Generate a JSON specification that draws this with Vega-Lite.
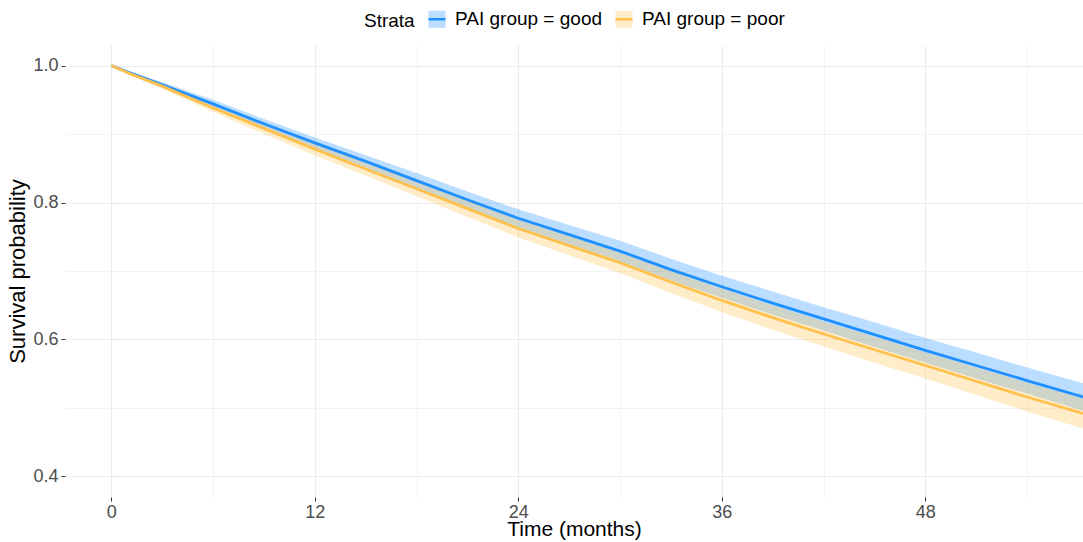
{
  "$schema": "https://vega.github.io/schema/vega-lite/v6.json",
  "width": 1018,
  "height": 452,
  "autosize": {"type": "none"},
  "padding": {"left": 65, "top": 45, "right": 0, "bottom": 45},
  "background": "white",
  "config": {
    "view": {"stroke": null},
    "font": "Liberation Sans"
  },
  "data": {
    "values": [
      {"time": 0, "strata": "PAI group = good", "surv": 1.000, "lower": 1.000, "upper": 1.000},
      {"time": 1, "strata": "PAI group = good", "surv": 0.990, "lower": 0.988, "upper": 0.992},
      {"time": 3, "strata": "PAI group = good", "surv": 0.972, "lower": 0.968, "upper": 0.976},
      {"time": 6, "strata": "PAI group = good", "surv": 0.944, "lower": 0.938, "upper": 0.950},
      {"time": 9, "strata": "PAI group = good", "surv": 0.915, "lower": 0.908, "upper": 0.922},
      {"time": 12, "strata": "PAI group = good", "surv": 0.887, "lower": 0.879, "upper": 0.895},
      {"time": 15, "strata": "PAI group = good", "surv": 0.860, "lower": 0.851, "upper": 0.869},
      {"time": 18, "strata": "PAI group = good", "surv": 0.832, "lower": 0.821, "upper": 0.843},
      {"time": 21, "strata": "PAI group = good", "surv": 0.804, "lower": 0.792, "upper": 0.816},
      {"time": 24, "strata": "PAI group = good", "surv": 0.777, "lower": 0.764, "upper": 0.790},
      {"time": 27, "strata": "PAI group = good", "surv": 0.753, "lower": 0.739, "upper": 0.767},
      {"time": 30, "strata": "PAI group = good", "surv": 0.729, "lower": 0.714, "upper": 0.744},
      {"time": 33, "strata": "PAI group = good", "surv": 0.702, "lower": 0.686, "upper": 0.718},
      {"time": 36, "strata": "PAI group = good", "surv": 0.677, "lower": 0.661, "upper": 0.693},
      {"time": 39, "strata": "PAI group = good", "surv": 0.653, "lower": 0.636, "upper": 0.670},
      {"time": 42, "strata": "PAI group = good", "surv": 0.630, "lower": 0.613, "upper": 0.647},
      {"time": 45, "strata": "PAI group = good", "surv": 0.607, "lower": 0.589, "upper": 0.625},
      {"time": 48, "strata": "PAI group = good", "surv": 0.584, "lower": 0.566, "upper": 0.602},
      {"time": 51, "strata": "PAI group = good", "surv": 0.562, "lower": 0.543, "upper": 0.581},
      {"time": 54, "strata": "PAI group = good", "surv": 0.540, "lower": 0.521, "upper": 0.559},
      {"time": 57.3, "strata": "PAI group = good", "surv": 0.516, "lower": 0.496, "upper": 0.536},
      {"time": 0, "strata": "PAI group = poor", "surv": 1.000, "lower": 1.000, "upper": 1.000},
      {"time": 1, "strata": "PAI group = poor", "surv": 0.989, "lower": 0.987, "upper": 0.991},
      {"time": 3, "strata": "PAI group = poor", "surv": 0.970, "lower": 0.966, "upper": 0.974},
      {"time": 6, "strata": "PAI group = poor", "surv": 0.938, "lower": 0.932, "upper": 0.944},
      {"time": 9, "strata": "PAI group = poor", "surv": 0.908, "lower": 0.900, "upper": 0.916},
      {"time": 12, "strata": "PAI group = poor", "surv": 0.878, "lower": 0.869, "upper": 0.887},
      {"time": 15, "strata": "PAI group = poor", "surv": 0.849, "lower": 0.839, "upper": 0.859},
      {"time": 18, "strata": "PAI group = poor", "surv": 0.820, "lower": 0.809, "upper": 0.831},
      {"time": 21, "strata": "PAI group = poor", "surv": 0.791, "lower": 0.779, "upper": 0.803},
      {"time": 24, "strata": "PAI group = poor", "surv": 0.762, "lower": 0.749, "upper": 0.775},
      {"time": 27, "strata": "PAI group = poor", "surv": 0.737, "lower": 0.723, "upper": 0.751},
      {"time": 30, "strata": "PAI group = poor", "surv": 0.712, "lower": 0.697, "upper": 0.727},
      {"time": 33, "strata": "PAI group = poor", "surv": 0.684, "lower": 0.668, "upper": 0.700},
      {"time": 36, "strata": "PAI group = poor", "surv": 0.657, "lower": 0.640, "upper": 0.674},
      {"time": 39, "strata": "PAI group = poor", "surv": 0.632, "lower": 0.614, "upper": 0.650},
      {"time": 42, "strata": "PAI group = poor", "surv": 0.608, "lower": 0.590, "upper": 0.626},
      {"time": 45, "strata": "PAI group = poor", "surv": 0.585, "lower": 0.566, "upper": 0.604},
      {"time": 48, "strata": "PAI group = poor", "surv": 0.562, "lower": 0.543, "upper": 0.581},
      {"time": 51, "strata": "PAI group = poor", "surv": 0.539, "lower": 0.519, "upper": 0.559},
      {"time": 54, "strata": "PAI group = poor", "surv": 0.516, "lower": 0.495, "upper": 0.537},
      {"time": 57.3, "strata": "PAI group = poor", "surv": 0.492, "lower": 0.470, "upper": 0.514}
    ]
  },
  "encoding": {
    "x": {
      "field": "time",
      "type": "quantitative",
      "scale": {"domain": [-2.73, 57.3], "nice": false, "zero": false},
      "axis": {
        "title": "Time (months)",
        "values": [0, 6, 12, 18, 24, 30, 36, 42, 48, 54],
        "labelExpr": "datum.value % 12 === 0 ? datum.label : ''",
        "domain": false,
        "grid": true,
        "gridColor": "#EBEBEB",
        "gridWidth": {"condition": {"test": "datum.value % 12 !== 0", "value": 0.6}, "value": 1.1},
        "ticks": true,
        "tickSize": 4,
        "tickWidth": 1,
        "tickColor": {"condition": {"test": "datum.value % 12 !== 0", "value": "transparent"}, "value": "#333333"},
        "labelFontSize": 18,
        "labelColor": "#4D4D4D",
        "labelPadding": 2,
        "labelFlush": false,
        "titleFontSize": 21,
        "titleFontWeight": "normal",
        "titleColor": "#000000",
        "titleBaseline": "alphabetic",
        "titleY": 38
      }
    },
    "color": {
      "field": "strata",
      "type": "nominal",
      "scale": {"domain": ["PAI group = good", "PAI group = poor"], "range": ["#1E90FF", "#FFC04C"]},
      "legend": {
        "title": "Strata",
        "orient": "none",
        "legendX": 299,
        "legendY": -36,
        "direction": "horizontal",
        "titleOrient": "left",
        "titleFontSize": 19,
        "titleFontWeight": "normal",
        "titleColor": "#000000",
        "titlePadding": 12,
        "labelFontSize": 19,
        "labelColor": "#000000",
        "labelOffset": 8,
        "columnPadding": 7,
        "symbolType": "M-1,0H1V1H-1V-1H1V0Z",
        "symbolSize": 289,
        "symbolStrokeWidth": 2.5,
        "symbolDash": [17, 1000],
        "encode": {
          "symbols": {
            "update": {
              "fill": {"scale": "color", "field": "value"},
              "stroke": {"scale": "color", "field": "value"},
              "fillOpacity": {"value": 0.3},
              "strokeOpacity": {"value": 1},
              "opacity": {"value": 1}
            }
          }
        }
      }
    }
  },
  "layer": [
    {
      "mark": {"type": "area", "fillOpacity": 0.3, "clip": true},
      "encoding": {
        "y": {
          "field": "lower",
          "type": "quantitative",
          "scale": {"domain": [0.37, 1.03], "nice": false, "zero": false},
          "axis": {
            "title": "Survival probability",
            "values": [0.4, 0.5, 0.6, 0.7, 0.8, 0.9, 1.0],
            "format": ".1f",
            "labelExpr": "round(datum.value * 10) % 2 === 0 ? datum.label : ''",
            "domain": false,
            "grid": true,
            "gridColor": "#EBEBEB",
            "gridWidth": {"condition": {"test": "round(datum.value * 10) % 2 !== 0", "value": 0.6}, "value": 1.1},
            "tickSize": 4,
            "tickWidth": 1,
            "tickColor": {"condition": {"test": "round(datum.value * 10) % 2 !== 0", "value": "transparent"}, "value": "#333333"},
            "labelFontSize": 18,
            "labelColor": "#4D4D4D",
            "labelPadding": 3,
            "labelFlush": false,
            "titleFontSize": 22,
            "titleFontWeight": "normal",
            "titleColor": "#000000",
            "titlePadding": 3
          }
        },
        "y2": {"field": "upper"}
      }
    },
    {
      "mark": {"type": "line", "strokeWidth": 2.8, "clip": true},
      "encoding": {
        "y": {"field": "surv", "type": "quantitative"}
      }
    }
  ]
}
